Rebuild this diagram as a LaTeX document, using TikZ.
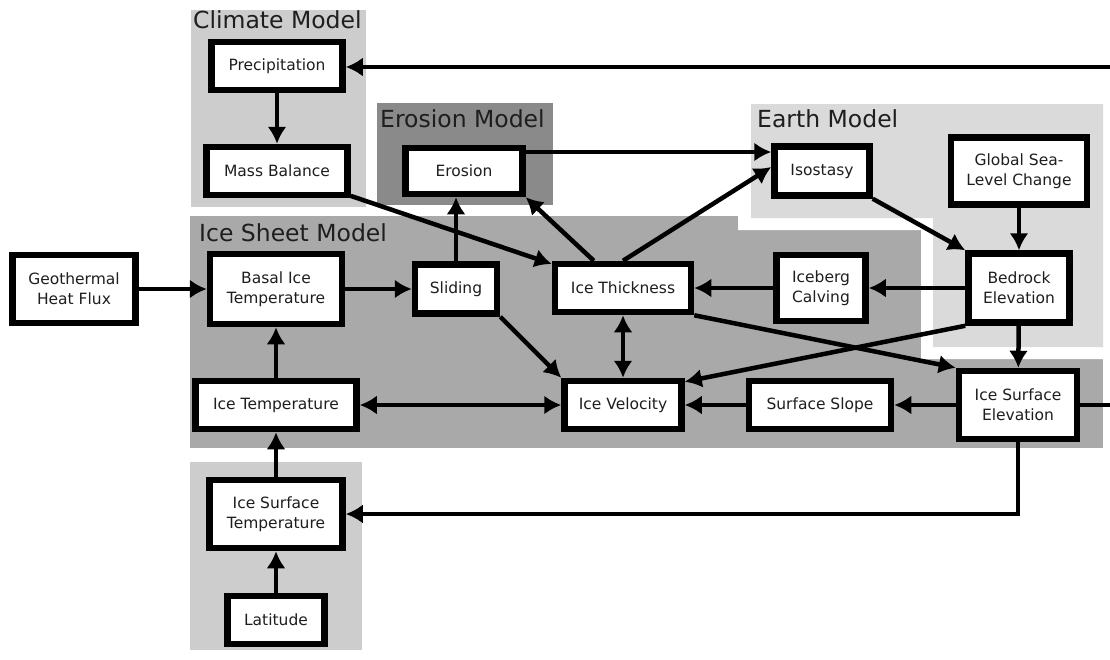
\documentclass[tikz,border=0pt]{standalone}
\usepackage{fontspec}
\setmainfont{DejaVu Sans}
\usepackage{xcolor}
\usepackage{tikz}
\usetikzlibrary{arrows.meta}
\tikzset{>=stealth}

\definecolor{climategray}{HTML}{CDCDCD}
\definecolor{erosiongray}{HTML}{8A8A8A}
\definecolor{sheetgray}{HTML}{A9A9A9}
\definecolor{earthgray}{HTML}{DADADA}
\definecolor{textgray}{HTML}{1E1E1E}

\newcommand{\boxfont}{\fontsize{15.5}{20}\selectfont}
\newcommand{\titlefont}{\fontsize{23.5}{26}\selectfont}

\tikzset{
  model/.style={draw=black, line width=6.5pt, fill=white, align=center,
    inner sep=0pt, outer sep=3.25pt, text=textgray, font=\boxfont},
  title/.style={anchor=base west, inner sep=0pt, text=textgray, font=\titlefont},
  arr/.style={line width=4.5pt, -{Latex[length=17pt,width=19pt]}},
  darr/.style={line width=4.5pt, {Latex[length=17pt,width=19pt]}-{Latex[length=17pt,width=19pt]}}
}

\begin{document}
\begin{tikzpicture}[x=1pt,y=-1pt]
      \useasboundingbox (0,0) rectangle (1110,659);
      % model regions
      \fill[climategray] (191,10) rectangle (366,207);
      \fill[erosiongray] (377,103) rectangle (553,205);
      \fill[sheetgray] (190,216) rectangle (1103,448);
      \fill[white] (738,96) -- (1110,96) -- (1110,359) -- (921,359) -- (921,230) -- (738,230) -- cycle;
      \fill[earthgray] (751,104) -- (1103,104) -- (1103,347) -- (933,347) -- (933,218) -- (751,218) -- cycle;
      \fill[climategray] (190,462) rectangle (362,650);
      \node[title] at (193,28) {Climate Model};
      \node[title] at (380,127) {Erosion Model};
      \node[title] at (199,241) {Ice Sheet Model};
      \node[title] at (757,127) {Earth Model};

      % boxes
      \node[model, minimum width=131pt, minimum height=48pt] (prec) at (277,66) {Precipitation};
      \node[model, minimum width=141pt, minimum height=48pt] (mass) at (277,171) {Mass Balance};
      \node[model, minimum width=117pt, minimum height=46pt] (erosion) at (464,171) {Erosion};
      \node[model, minimum width=95pt, minimum height=49pt] (isostasy) at (822,171) {Isostasy};
      \node[model, minimum width=136pt, minimum height=67pt] (globalsea) at (1019,171) {Global Sea-\\Level Change};
      \node[model, minimum width=123pt, minimum height=68pt] (geo) at (74,289) {Geothermal\\Heat Flux};
      \node[model, minimum width=132pt, minimum height=70pt] (basal) at (276,289) {Basal Ice\\Temperature};
      \node[model, minimum width=82pt, minimum height=49pt] (sliding) at (456,289) {Sliding};
      \node[model, minimum width=136pt, minimum height=48pt] (thick) at (623,288) {Ice Thickness};
      \node[model, minimum width=89pt, minimum height=66pt] (calving) at (821,288) {Iceberg\\Calving};
      \node[model, minimum width=101pt, minimum height=69pt] (bedrock) at (1019,288) {Bedrock\\Elevation};
      \node[model, minimum width=161pt, minimum height=48pt] (icetemp) at (276,405) {Ice Temperature};
      \node[model, minimum width=117pt, minimum height=48pt] (velocity) at (623,405) {Ice Velocity};
      \node[model, minimum width=142pt, minimum height=48pt] (slope) at (820,405) {Surface Slope};
      \node[model, minimum width=118pt, minimum height=68pt] (surfelev) at (1018,405) {Ice Surface\\Elevation};
      \node[model, minimum width=133pt, minimum height=68pt] (surftemp) at (276,514) {Ice Surface\\Temperature};
      \node[model, minimum width=97pt, minimum height=48pt] (latitude) at (276,620) {Latitude};

      % feedback loop round the right edge
      \coordinate (rightlow) at (1120,405);
      \coordinate (righttop) at (1120,67);

      % connectors
      \draw[arr] (prec) -- (mass);
      \draw[arr] (mass) -- (thick);
      \draw[arr] (sliding.north) -- (sliding.north |- erosion.south);
      \draw[arr] ([yshift=19pt]erosion.east) -- ([yshift=19pt]isostasy.west);
      \draw[arr] (thick) -- (erosion.south east);
      \draw[arr] (thick.north) -- ([yshift=4pt]isostasy.west);
      \draw[arr] (isostasy.south east) -- (bedrock.north west);
      \draw[arr] (globalsea) -- (bedrock);
      \draw[arr] (bedrock) -- (calving);
      \draw[arr] (calving) -- (thick);
      \draw[arr] (bedrock.south west) -- ([yshift=-4pt]velocity.north east);
      \draw[arr] (thick.south east) -- (surfelev.north west);
      \draw[darr] (thick) -- (velocity);
      \draw[arr] (bedrock) -- (surfelev);
      \draw[arr] (sliding.south east) -- (velocity.north west);
      \draw[arr] (geo) -- (basal);
      \draw[arr] (basal) -- (sliding);
      \draw[arr] (icetemp) -- (basal);
      \draw[darr] (icetemp) -- (velocity);
      \draw[arr] (slope) -- (velocity);
      \draw[arr] (surfelev) -- (slope);
      \draw[arr] (surftemp) -- (icetemp);
      \draw[arr] (latitude) -- (surftemp);
      \draw[arr] (surfelev.south) |- (surftemp.east);
      \draw[arr] (surfelev.east) -- (rightlow) -- (righttop) -- (prec.east |- righttop);
\end{tikzpicture}
\end{document}
